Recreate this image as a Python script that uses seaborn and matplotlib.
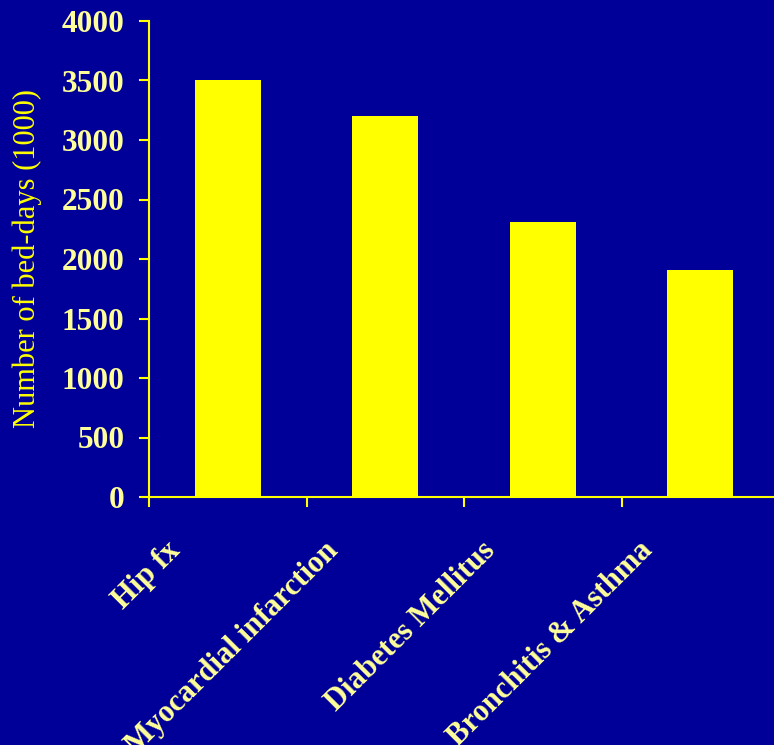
import numpy as np
import pandas as pd
import matplotlib
matplotlib.use("Agg")
import matplotlib.pyplot as plt
import matplotlib.transforms as mtransforms
import seaborn as sns

conditions = ["Hip fx", "Myocardial infarction", "Diabetes Mellitus", "Bronchitis & Asthma"]
bed_days = [3500, 3200, 2310, 1905]
y_ticks = [0, 500, 1000, 1500, 2000, 2500, 3000, 3500, 4000]

df = pd.DataFrame({"condition": conditions, "bed_days": bed_days})

bg = "#000099"
yellow = "#FFFF00"
pale = "#FFFF99"

sns.set_style("white")
plt.rcParams["font.family"] = ["Liberation Serif", "DejaVu Serif"]

fig = plt.figure(figsize=(7.74, 7.45), dpi=100, facecolor=bg)
ax = fig.add_axes([149 / 774, 248 / 745, 630 / 774, 476 / 745])
ax.set_facecolor(bg)

sns.barplot(data=df, x="condition", y="bed_days", color=yellow, saturation=1,
            width=0.42, linewidth=0, edgecolor=yellow, ax=ax)

ax.set_xlim(-0.5, len(conditions) - 0.5)
ax.set_ylim(0, 4000)
ax.set_yticks(y_ticks)
ax.set_yticklabels([str(v) for v in y_ticks], fontsize=22.5, fontweight="bold", color=pale)

# ticks between categories, labels at category centres
ax.set_xticks(np.arange(len(conditions)) - 0.5)
ax.set_xticklabels([])
ax.set_xticks(np.arange(len(conditions)), minor=True)
ax.set_xticklabels(conditions, minor=True, fontsize=22, fontweight="bold", color=pale)
ax.set_xlabel("")

for sp in ["top", "right"]:
    ax.spines[sp].set_visible(False)
for sp in ["left", "bottom"]:
    ax.spines[sp].set_color(yellow)
    ax.spines[sp].set_linewidth(1.5)

ax.tick_params(axis="both", which="major", direction="out", length=7.5, width=1.5,
               color=yellow, left=True, bottom=True)
ax.tick_params(axis="y", pad=10)
ax.tick_params(axis="x", which="minor", length=0, pad=28)

shift = mtransforms.ScaledTranslation(-0.62, 0, fig.dpi_scale_trans)
for lab in ax.get_xticklabels(minor=True):
    lab.set_rotation(45)
    lab.set_ha("right")
    lab.set_va("top")
    lab.set_rotation_mode("anchor")
    lab.set_transform(lab.get_transform() + shift)

ax.set_ylabel("Number of bed-days (1000)", fontsize=22, color=yellow)
ax.yaxis.set_label_coords(-0.17, 0.5)

fig.savefig("out.png", dpi=100, facecolor=bg)
